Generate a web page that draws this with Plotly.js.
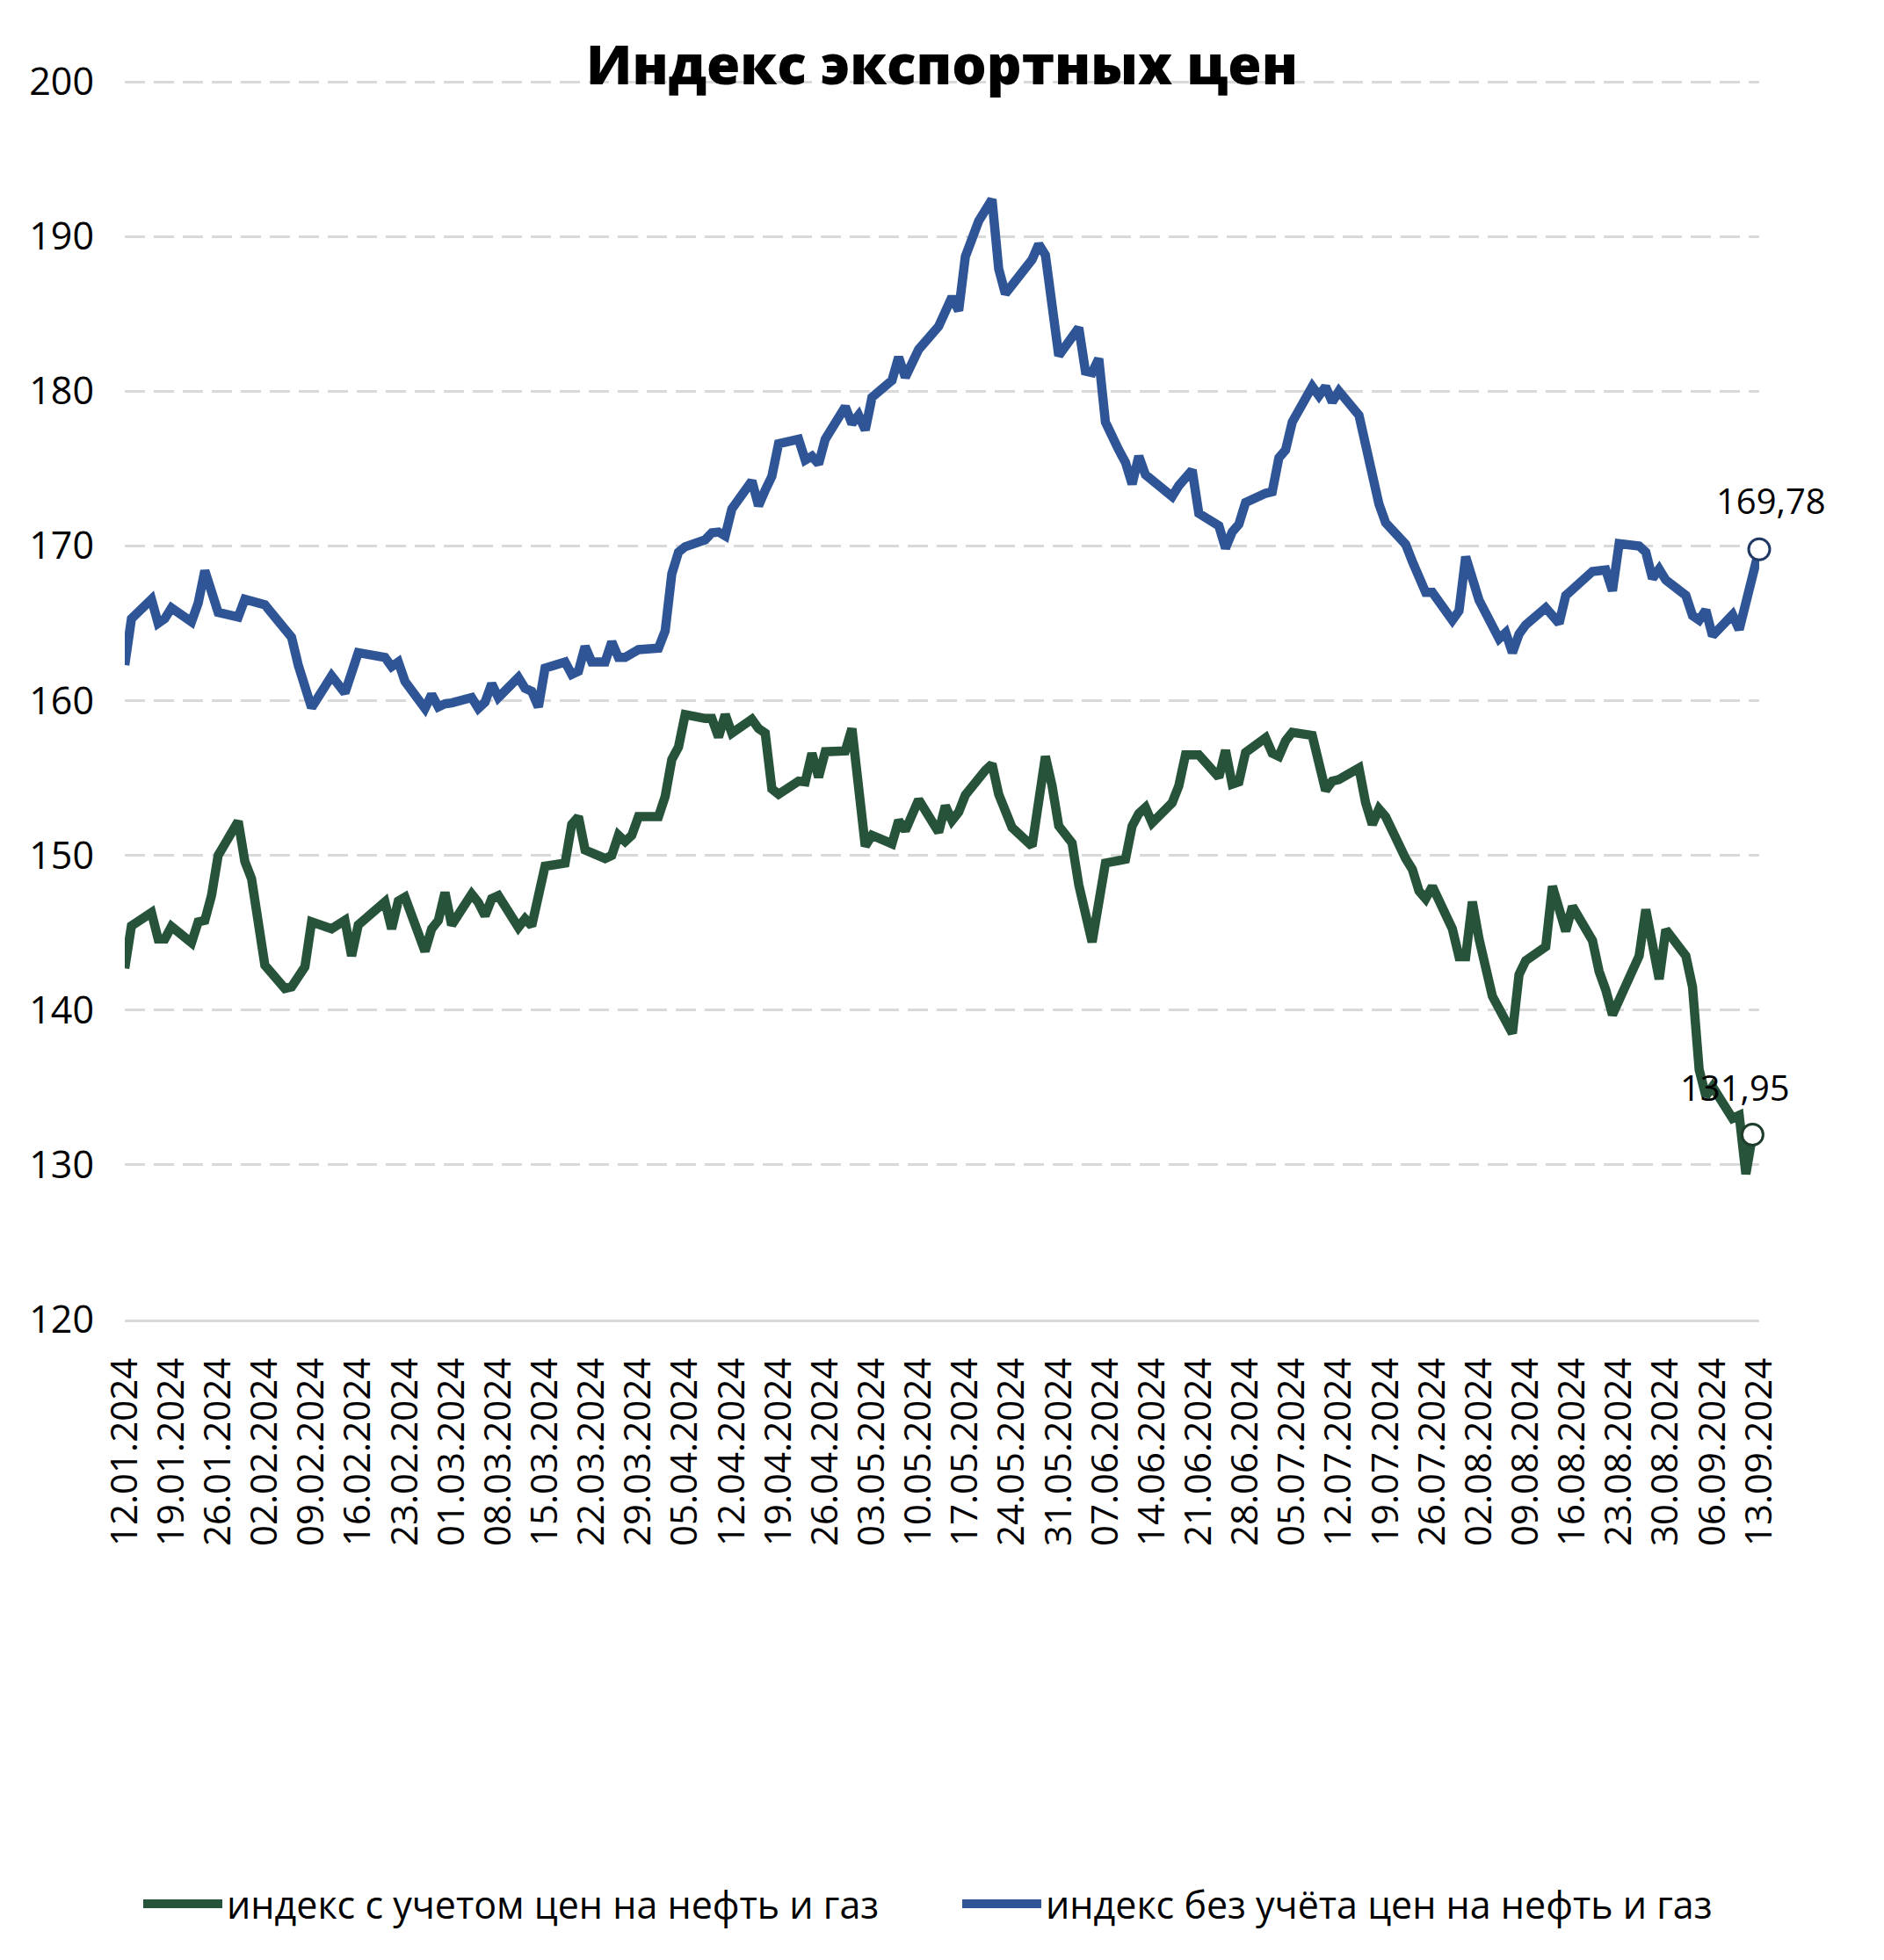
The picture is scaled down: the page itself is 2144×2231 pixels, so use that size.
<!DOCTYPE html>
<html>
<head>
<meta charset="utf-8">
<script src="https://cdn.plot.ly/plotly-3.0.1.min.js"></script>
<style>html,body{margin:0;padding:0;background:#fff;}#chart{width:2144px;height:2231px;}</style>
</head>
<body>
<div id="chart"></div>
<script>
// ---- data ----
const seriesNames = ["индекс с учетом цен на нефть и газ", "индекс без учёта цен на нефть и газ"];

const datesGreen = ['2024-01-12','2024-01-13','2024-01-16','2024-01-17','2024-01-18','2024-01-19','2024-01-22','2024-01-23','2024-01-24','2024-01-25','2024-01-26','2024-01-29','2024-01-30','2024-01-31','2024-02-02','2024-02-05','2024-02-06','2024-02-07','2024-02-08','2024-02-09','2024-02-12','2024-02-14','2024-02-15','2024-02-16','2024-02-20','2024-02-21','2024-02-22','2024-02-23','2024-02-26','2024-02-27','2024-02-28','2024-02-29','2024-03-01','2024-03-04','2024-03-05','2024-03-06','2024-03-07','2024-03-08','2024-03-11','2024-03-12','2024-03-13','2024-03-15','2024-03-18','2024-03-19','2024-03-20','2024-03-21','2024-03-24','2024-03-25','2024-03-26','2024-03-27','2024-03-28','2024-03-29','2024-04-01','2024-04-02','2024-04-03','2024-04-04','2024-04-05','2024-04-08','2024-04-09','2024-04-10','2024-04-11','2024-04-12','2024-04-15','2024-04-16','2024-04-17','2024-04-18','2024-04-19','2024-04-22','2024-04-23','2024-04-24','2024-04-25','2024-04-26','2024-04-29','2024-04-30','2024-05-02','2024-05-03','2024-05-06','2024-05-07','2024-05-08','2024-05-10','2024-05-13','2024-05-14','2024-05-15','2024-05-16','2024-05-17','2024-05-20','2024-05-21','2024-05-22','2024-05-24','2024-05-27','2024-05-29','2024-05-30','2024-05-31','2024-06-02','2024-06-03','2024-06-05','2024-06-07','2024-06-10','2024-06-11','2024-06-12','2024-06-13','2024-06-14','2024-06-17','2024-06-18','2024-06-19','2024-06-21','2024-06-24','2024-06-25','2024-06-26','2024-06-27','2024-06-28','2024-07-01','2024-07-02','2024-07-03','2024-07-04','2024-07-05','2024-07-08','2024-07-10','2024-07-11','2024-07-12','2024-07-15','2024-07-16','2024-07-17','2024-07-18','2024-07-19','2024-07-22','2024-07-23','2024-07-24','2024-07-25','2024-07-26','2024-07-29','2024-07-30','2024-07-31','2024-08-01','2024-08-02','2024-08-04','2024-08-05','2024-08-07','2024-08-08','2024-08-09','2024-08-12','2024-08-13','2024-08-15','2024-08-16','2024-08-19','2024-08-20','2024-08-21','2024-08-22','2024-08-26','2024-08-27','2024-08-29','2024-08-30','2024-09-02','2024-09-03','2024-09-04','2024-09-05','2024-09-06','2024-09-09','2024-09-10','2024-09-11','2024-09-12'];
const valuesGreen = [142.7,145.45,146.3,144.6,144.6,145.4,144.35,145.7,145.8,147.4,150.0,152.2,149.6,148.5,142.9,141.4,141.5,142.3,142.8,145.7,145.25,145.8,143.5,145.5,147.0,145.25,147.05,147.3,143.8,145.25,145.8,147.6,145.5,147.5,146.95,146.1,147.2,147.4,145.35,145.9,145.45,149.3,149.5,152.0,152.5,150.35,149.8,150.0,151.3,150.9,151.3,152.5,152.5,153.8,156.2,157.0,159.1,158.85,158.85,157.65,159.1,157.9,158.8,158.2,157.9,154.3,153.95,154.8,154.75,156.6,155.05,156.7,156.75,158.2,150.6,151.3,150.75,152.25,151.6,153.6,151.5,153.2,152.25,152.8,153.9,155.5,155.9,153.95,151.8,150.6,156.4,154.5,151.9,150.8,148.1,144.4,149.5,149.75,151.9,152.7,153.1,152.1,153.4,154.5,156.5,156.5,155.05,156.8,154.6,154.75,156.65,157.6,156.6,156.4,157.4,157.95,157.75,154.2,154.8,154.9,155.65,153.4,152.0,153.0,152.5,149.8,149.1,147.7,147.2,148.0,145.25,143.45,143.45,147.0,144.6,140.9,140.05,138.5,142.3,143.2,144.1,148.0,145.1,146.7,144.5,142.5,141.3,139.7,143.5,146.5,142.0,145.2,143.5,141.5,136.15,134.45,135.05,133.0,133.2,129.4,131.95];

const datesBlue = ['2024-01-12','2024-01-13','2024-01-16','2024-01-17','2024-01-18','2024-01-19','2024-01-22','2024-01-23','2024-01-24','2024-01-26','2024-01-29','2024-01-30','2024-02-02','2024-02-05','2024-02-06','2024-02-07','2024-02-09','2024-02-12','2024-02-14','2024-02-16','2024-02-20','2024-02-21','2024-02-22','2024-02-23','2024-02-26','2024-02-27','2024-02-28','2024-02-29','2024-03-01','2024-03-04','2024-03-05','2024-03-06','2024-03-07','2024-03-08','2024-03-11','2024-03-12','2024-03-13','2024-03-14','2024-03-15','2024-03-18','2024-03-19','2024-03-20','2024-03-21','2024-03-22','2024-03-24','2024-03-25','2024-03-26','2024-03-27','2024-03-28','2024-03-29','2024-04-01','2024-04-02','2024-04-03','2024-04-04','2024-04-05','2024-04-08','2024-04-09','2024-04-10','2024-04-11','2024-04-12','2024-04-15','2024-04-16','2024-04-17','2024-04-18','2024-04-19','2024-04-22','2024-04-23','2024-04-24','2024-04-25','2024-04-26','2024-04-29','2024-04-30','2024-05-01','2024-05-02','2024-05-03','2024-05-06','2024-05-07','2024-05-08','2024-05-10','2024-05-13','2024-05-15','2024-05-16','2024-05-17','2024-05-19','2024-05-21','2024-05-22','2024-05-23','2024-05-27','2024-05-28','2024-05-29','2024-05-31','2024-06-03','2024-06-04','2024-06-05','2024-06-06','2024-06-07','2024-06-09','2024-06-10','2024-06-11','2024-06-12','2024-06-13','2024-06-17','2024-06-18','2024-06-20','2024-06-21','2024-06-24','2024-06-25','2024-06-26','2024-06-27','2024-06-28','2024-07-01','2024-07-02','2024-07-03','2024-07-04','2024-07-05','2024-07-08','2024-07-09','2024-07-10','2024-07-11','2024-07-12','2024-07-15','2024-07-16','2024-07-17','2024-07-18','2024-07-19','2024-07-22','2024-07-23','2024-07-25','2024-07-26','2024-07-29','2024-07-30','2024-07-31','2024-08-02','2024-08-05','2024-08-06','2024-08-07','2024-08-08','2024-08-09','2024-08-12','2024-08-14','2024-08-15','2024-08-19','2024-08-21','2024-08-22','2024-08-23','2024-08-26','2024-08-27','2024-08-28','2024-08-29','2024-08-30','2024-09-02','2024-09-03','2024-09-04','2024-09-05','2024-09-06','2024-09-09','2024-09-10','2024-09-13'];
const valuesBlue = [162.3,165.3,166.55,165.0,165.3,166.0,165.1,166.3,168.4,165.7,165.4,166.55,166.2,164.6,164.1,162.3,159.55,161.6,160.5,163.1,162.8,162.2,162.5,161.25,159.5,160.4,159.6,159.8,159.85,160.2,159.5,159.9,161.1,160.2,161.5,160.8,160.6,159.6,162.1,162.5,161.7,161.9,163.5,162.5,162.5,163.8,162.8,162.8,163.1,163.3,163.4,164.5,168.2,169.6,169.95,170.4,170.85,170.9,170.65,172.4,174.2,172.6,173.6,174.5,176.6,176.9,175.55,175.8,175.3,176.9,179.0,177.9,178.45,177.5,179.6,180.7,182.2,180.9,182.7,184.2,186.1,185.2,188.7,191.0,192.4,187.9,186.3,188.5,189.5,188.8,182.3,184.1,181.3,181.2,182.1,178.0,176.2,175.4,174.0,175.8,174.6,173.2,173.9,174.9,172.1,171.3,169.85,170.9,171.4,172.8,173.4,173.5,175.7,176.2,178.0,180.3,179.7,180.3,179.3,180.0,178.45,176.45,175.0,172.7,171.5,170.1,169.0,167.0,167.0,165.2,165.8,169.3,166.5,164.0,164.4,163.1,164.3,164.9,166.0,165.0,166.8,168.35,168.45,167.1,170.15,170.0,169.6,167.9,168.5,167.8,166.8,165.5,165.2,165.85,164.2,165.55,164.6,169.78];

const titleText = "Индекс экспортных цен";
const yTickValues = [120, 130, 140, 150, 160, 170, 180, 190, 200];

// ---- style ----
const GREEN = '#27533A';
const BLUE = '#2F5597';
const FONT = '"Open Sans", "Noto Sans", sans-serif';

const fmt = v => v.toFixed(2).replace('.', ',');
const lastG = valuesGreen.length - 1;
const lastB = valuesBlue.length - 1;

const traces = [
  {
    x: datesGreen, y: valuesGreen, type: 'scatter', mode: 'lines',
    name: seriesNames[0], legend: 'legend',
    line: {color: GREEN, width: 10.5}, cliponaxis: false
  },
  {
    x: datesBlue, y: valuesBlue, type: 'scatter', mode: 'lines',
    name: seriesNames[1], legend: 'legend2',
    line: {color: BLUE, width: 10.5}, cliponaxis: false
  },
  {
    x: [datesGreen[lastG]], y: [valuesGreen[lastG]], type: 'scatter', mode: 'markers',
    showlegend: false, cliponaxis: false,
    marker: {size: 24, color: '#ffffff', line: {color: '#1E3D2A', width: 3}}
  },
  {
    x: [datesBlue[lastB]], y: [valuesBlue[lastB]], type: 'scatter', mode: 'markers',
    showlegend: false, cliponaxis: false,
    marker: {size: 24, color: '#ffffff', line: {color: '#1F3864', width: 3}}
  }
];

const legendY = (1502 - 2167) / 1410;
const legendBase = {
  orientation: 'h', xanchor: 'left', xref: 'paper',
  y: legendY, yanchor: 'middle',
  font: {family: FONT, size: 43, color: '#000000'},
  itemwidth: 90, bgcolor: 'rgba(0,0,0,0)'
};

const layout = {
  width: 2144, height: 2231,
  paper_bgcolor: '#ffffff', plot_bgcolor: '#ffffff',
  margin: {l: 142, r: 142, t: 92, b: 729, autoexpand: false},
  font: {family: FONT, size: 42, color: '#000000'},
  title: {
    text: titleText,
    font: {family: FONT, size: 62, color: '#000000', weight: 800},
    x: 0.5, xref: 'paper', xanchor: 'center',
    y: 1 - 74 / 2231, yref: 'container', yanchor: 'middle'
  },
  xaxis: {
    type: 'date',
    range: ['2024-01-12', '2024-09-13'],
    tick0: '2024-01-12', dtick: 7 * 24 * 3600 * 1000,
    tickformat: '%d.%m.%Y', tickangle: -90,
    tickfont: {family: FONT, size: 42, color: '#000000'},
    showgrid: false, zeroline: false,
    showline: true, linecolor: '#D9D9D9', linewidth: 3,
    ticks: '', ticklabelstandoff: 24
  },
  yaxis: {
    range: [120, 200.06], tickvals: yTickValues,
    tickfont: {family: FONT, size: 43, color: '#000000'},
    showgrid: true, gridcolor: '#D9D9D9', gridwidth: 3, griddash: '23px,10px',
    zeroline: false, showline: false, ticks: '', ticklabelstandoff: 34
  },
  showlegend: true,
  legend: Object.assign({}, legendBase, {x: (158 - 142) / 1860}),
  legend2: Object.assign({}, legendBase, {x: (1090 - 142) / 1860}),
  annotations: [
    {
      x: datesBlue[lastB], y: valuesBlue[lastB], text: fmt(valuesBlue[lastB]),
      showarrow: false, xanchor: 'center', yanchor: 'middle', xshift: 13, yshift: 56,
      font: {family: FONT, size: 40, color: '#000000'}
    },
    {
      x: datesGreen[lastG], y: valuesGreen[lastG], text: fmt(valuesGreen[lastG]),
      showarrow: false, xanchor: 'center', yanchor: 'middle', xshift: -20, yshift: 54,
      font: {family: FONT, size: 40, color: '#000000'}
    }
  ]
};

Plotly.newPlot('chart', traces, layout, {staticPlot: true, displayModeBar: false});
</script>
</body>
</html>
